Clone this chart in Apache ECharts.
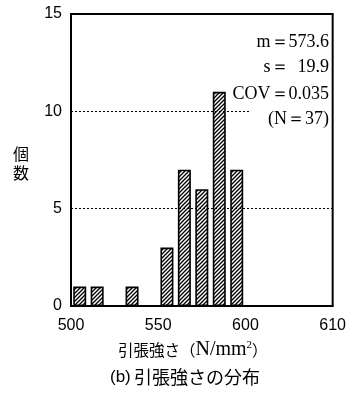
<!DOCTYPE html>
<html><head><meta charset="utf-8">
<script src="https://cdn.jsdelivr.net/npm/echarts@6/dist/echarts.min.js"></script>
<style>html,body{margin:0;padding:0;background:#fff}#c{width:349px;height:394px}</style>
</head><body><div id="c"></div>
<script>
const binCenters = [505, 515, 535, 555, 565, 575, 585, 595];
const counts = [1, 1, 1, 3, 7, 6, 11, 7];
const xTicks = {500: '500', 550: '550', 600: '600', 650: '610'};
const yTicks = [0, 5, 10, 15];
const statLines = ['m＝573.6', 's＝  19.9', 'COV＝0.035', '(N＝37)'];
const gridLevels = [5, 10];

const pc = document.createElement('canvas');
pc.width = 4; pc.height = 4;
const g = pc.getContext('2d');
g.fillStyle = '#fff'; g.fillRect(0,0,4,4);
g.strokeStyle = '#000'; g.lineWidth = 1.3;
g.beginPath();
g.moveTo(-1,5); g.lineTo(5,-1);
g.moveTo(-1,1); g.lineTo(1,-1);
g.moveTo(3,5); g.lineTo(5,3);
g.stroke();

const chart = echarts.init(document.getElementById('c'), null, {renderer:'canvas'});
const serif = '"Liberation Serif", "DejaVu Serif", serif';
const cjk = '"Noto Sans CJK JP", sans-serif';
const sans = '"Liberation Sans", sans-serif';
const statTop = [33, 58, 85, 110];
chart.setOption({
  animation: false,
  grid: {left: 71, right: 9, top: 14, bottom: 88, show: true, borderColor: '#000', borderWidth: 2},
  xAxis: {
    type: 'value', min: 500, max: 650, interval: 50,
    axisLine: {show: true, lineStyle: {color: '#000', width: 2}},
    axisTick: {show: false}, splitLine: {show: false},
    axisLabel: {margin: 12, color: '#000', fontSize: 16, fontFamily: sans,
      formatter: v => xTicks[v] || ''}
  },
  yAxis: {
    type: 'value', min: 0, max: 15, interval: 5,
    axisLine: {show: true, lineStyle: {color: '#000', width: 2}},
    axisTick: {show: false}, splitLine: {show: false},
    axisLabel: {margin: 9, color: '#000', fontSize: 16, fontFamily: sans,
      formatter: v => yTicks.includes(v) ? String(v) : ''}
  },
  series: [{
    type: 'bar', barWidth: 13,
    data: binCenters.map((x, i) => [x, counts[i]]),
    itemStyle: {color: {image: pc, repeat: 'repeat'}, borderColor: '#000', borderWidth: 1.6},
    z: 3
  }, {
    type: 'line', data: [], z: 6,
    markLine: {
      silent: true, symbol: 'none', label: {show: false},
      lineStyle: {color: '#000', type: [2, 2], width: 1},
      data: [
        [{coord: [500, gridLevels[0]]}, {coord: [650, gridLevels[0]]}],
        [{coord: [500, gridLevels[1]]}, {coord: [603, gridLevels[1]]}]
      ]
    }
  }],
  graphic: [
    ...statLines.map((t, i) => ({type: 'text', x: 329, y: statTop[i], z: 10,
      style: {text: t, fill: '#000', font: '18px ' + serif, align: 'right'}})),
    {type: 'text', left: 13, top: 144, style: {text: '個\n数', fill: '#000', font: '16px ' + cjk, lineHeight: 19}},
    {type: 'text', left: 118, top: 340, style: {
      text: '{c|引張強さ}{c|（}{l|N/mm}{s|2}{c|）}', fill: '#000',
      rich: {c: {font: '15.5px ' + cjk, fill: '#000'}, l: {font: '20px ' + serif, fill: '#000'},
             s: {font: '11px ' + serif, fill: '#000', verticalAlign: 'top', padding: [0, 0, 8, 0]}}}},
    {type: 'text', left: 110, top: 368, style: {text: '{p|(b)} {c|引張強さの分布}', fill: '#000',
      rich: {p: {font: '17px ' + sans, fill: '#000'}, c: {font: '18px ' + cjk, fill: '#000'}}}}
  ]
});
</script></body></html>
